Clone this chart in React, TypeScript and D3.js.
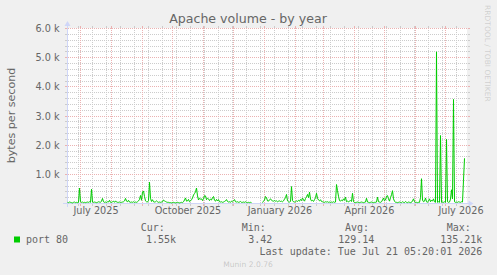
import React from "react";
import * as d3 from "d3";

// ---- data ----
const START_DATE = [2025, 5, 18]; // first plotted day (local), one value per day
const END_DATE = [2026, 6, 23];
const MINOR_GRID_FIRST = [2025, 5, 29];
const MINOR_GRID_STEP_DAYS = 14;

const yTicks = [1000, 2000, 3000, 4000, 5000, 6000];
const yTickLabels = ["1.0 k", "2.0 k", "3.0 k", "4.0 k", "5.0 k", "6.0 k"];
const yMax = 6000;

const xLabelMonths = [
  [2025, 6, 1],
  [2025, 9, 1],
  [2026, 0, 1],
  [2026, 3, 1],
  [2026, 6, 1],
];
const xLabels = ["July 2025", "October 2025", "January 2026", "April 2026", "July 2026"];

// bytes per second, daily
const port80: (number | null)[] = [
  40, 30, 50, 40, 30, 20, 40, 50, 30, 40,
  30, 40, 530, 60, 40, 50, 30, 40, 30, 40,
  50, 40, 60, 40, 490, 50, 40, 50, 40, 30,
  40, 60, 50, 40, 80, 175, 60, 40, 50, 40,
  60, 50, 110, 40, 40, 60, 80, 40, 90, 50,
  40, 40, 50, 40, 40, 50, 60, 90, 175, 80,
  60, 110, 50, 40, 50, 40, 60, 40, 50, 40,
  60, 90, 140, 275, 110, 390, 430, 240, 90, 60,
  50, 100, 730, 180, 70, 130, 60, 50, 60, 90,
  60, 40, 50, 40, 50, 60, 120, 90, 70, 50,
  40, 40, 30, 30, 20, 30, 40, 30, 20, 30,
  40, 30, 20, 30, 40, 30, 60, 120, 190, 80,
  90, 140, 60, 90, 130, 190, 290, 340, 400, 530,
  260, 120, 180, 150, 160, 100, 170, 270, 260, 130,
  180, 160, 100, 150, 120, 200, 240, 110, 80, 140,
  90, 135, 60, 50, 60, 40, 50, 70, 90, 135,
  70, 50, 60, 40, 80, 60, 90, 135, 60, 50,
  60, 40, 50, 70, 40, 40, 50, 40, 60, 40,
  30, 40, 30, 40, 30, null, null, null, null, null,
  null, null, null, null, null, 30, 80, 120, 240, 200,
  90, 80, 130, 160, 110, 90, 80, 100, 80, 90,
  60, 80, 90, 70, 80, 60, 90, 150, 200, 310,
  90, 60, 50, 70, 580, 100, 60, 50, 60, 90,
  70, 110, 80, 140, 100, 190, 120, 80, 170, 230,
  310, 200, 390, 150, 90, 110, 70, 130, 200, 350,
  180, 120, 90, 130, 70, 60, 50, 40, 60, 50,
  60, 40, 50, 40, 50, 40, 60, 40, 50, 650,
  440, 250, 100, 80, 120, 90, 160, 110, 220, 60,
  80, 50, 90, 100, 70, 350, 60, 40, 30, 40,
  50, 40, 30, 40, 50, 40, 30, 40, 50, 180,
  50, 40, 30, 40, 50, 40, 30, 40, 40, 50,
  220, 60, 50, 40, 60, 120, 190, 90, 120, 250,
  270, 160, 80, 200, 300, 440, 160, 80, 40, 40,
  30, 40, 50, 40, 30, 60, 40, 30, 70, 40,
  30, 50, 40, 30, 40, 90, 160, 60, 40, 40,
  30, 40, 40, 200, 850, 120, 60, 80, 190, 60,
  40, 90, 160, 60, 120, 80, 160, 60, 40, 5200,
  40, 60, 40, 2330, 40, 50, 40, 60, 40, 2200,
  60, 40, 50, 150, 470, 160, 3570, 60, 40, 50,
  40, 60, 50, 40, 60, 50, 800, 1550,
];

const title = "Apache volume - by year";
const yTitle = "bytes per second";
const seriesName = "port 80";
const legendHeaders = ["Cur:", "Min:", "Avg:", "Max:"];
const legendValues = ["1.55k", "3.42", "129.14", "135.21k"];
const lastUpdate = "Last update: Tue Jul 21 05:20:01 2026";
const watermark = "Munin 2.0.76";
const sideText = "RRDTOOL / TOBI OETIKER";

const mk = (a: number[]) => new Date(a[0], a[1], a[2]);

export default function App() {
  const W = 497;
  const H = 275;
  const X0 = 67;
  const X1 = 467;
  const Y0 = 203;
  const Y1 = 28;

  const start = mk(START_DATE);
  const end = mk(END_DATE);
  const x = d3.scaleTime().domain([start, end]).range([X0 + 0.5, X1 + 0.5]);
  const y = d3.scaleLinear().domain([0, yMax]).range([Y0 + 0.5, Y1 + 0.5]);
  const pix = (v: number) => Math.floor(v);

  const sans = "'DejaVu Sans', sans-serif";
  const mono = "'DejaVu Sans Mono', monospace";
  const fontCol = "#666666";
  const gridCol = "#cccccc";
  const mgridCol = "#ebb2b2";
  const axisCol = "#CFD6F8";

  const minorY = d3.range(200, yMax + 1, 200).filter((v) => v % 1000 !== 0);
  const majorX = d3.timeMonth.range(d3.timeMonth.ceil(start), end);
  const minorX = d3.timeDay.range(mk(MINOR_GRID_FIRST), end, MINOR_GRID_STEP_DAYS);

  const data = port80.map((v, i) => ({ d: d3.timeDay.offset(start, i), v }));
  const line = d3
    .line<{ d: Date; v: number | null }>()
    .defined((p) => p.v !== null)
    .x((p) => x(p.d))
    .y((p) => y(p.v as number));

  const legendHeaderX = [140.7, 241.7, 345, 446.7];
  const legendValueRight = [176, 272.3, 374.3, 482.3];

  // dotted grid line built from 1px pixel squares (row py)
  const hPath = (py: number) => {
    let d = `M${X0 - 2},${py}h2v1h-2zM${X1 + 1},${py}h2v1h-2z`;
    for (let px = X0 + 1; px < X1; px += 2) d += `M${px},${py}h1v1h-1z`;
    return d;
  };
  const vPath = (px: number) => {
    let d = `M${px},${Y0 + 1}h1v2h-1zM${px},${Y1 - 2}h1v2h-1z`;
    for (let py = Y1; py < Y0; py += 2) d += `M${px},${py}h1v1h-1z`;
    return d;
  };

  return (
    <svg
      width={W}
      height={H}
      style={{ position: "fixed", left: 0, top: 0, display: "block" }}
      xmlns="http://www.w3.org/2000/svg"
    >
      <rect x={0} y={0} width={W} height={H} fill="#F0F0F0" />
      <rect x={X0} y={Y1} width={X1 - X0} height={Y0 - Y1} fill="#FFFFFF" />

      <g shapeRendering="crispEdges">
        {minorY.map((v) => (
          <path key={"mh" + v} d={hPath(pix(y(v)))} fill={gridCol} />
        ))}
        {minorX.map((d, i) => (
          <path key={"mv" + i} d={vPath(pix(x(d)))} fill={gridCol} />
        ))}
        {yTicks.map((v) => (
          <path key={"Mh" + v} d={hPath(pix(y(v)))} fill={mgridCol} />
        ))}
        {majorX.map((d, i) => (
          <path key={"Mv" + i} d={vPath(pix(x(d)))} fill={mgridCol} />
        ))}
      </g>

      {/* axes */}
      <line x1={X0 - 4} x2={X1 + 4} y1={Y0 + 0.5} y2={Y0 + 0.5} stroke={axisCol} shapeRendering="crispEdges" />
      <line x1={X0 + 0.5} x2={X0 + 0.5} y1={Y0 + 4} y2={Y1 - 4} stroke={axisCol} shapeRendering="crispEdges" />
      <polygon
        points={`${X1 + 1.5},${Y0 + 0.5 - 3} ${X1 + 1.5},${Y0 + 0.5 + 3} ${X1 + 6.5},${Y0 + 0.5}`}
        fill={axisCol}
      />
      <polygon
        points={`${X0 + 0.5 - 3},${Y1 - 2} ${X0 + 0.5 + 3},${Y1 - 2} ${X0 + 0.5},${Y1 - 7}`}
        fill={axisCol}
      />

      {/* data */}
      <path d={line(data) || ""} fill="none" stroke="#00CC00" strokeWidth={1} />

      {/* y tick labels */}
      {yTicks.map((v, i) => (
        <text
          key={"yl" + v}
          x={59.5}
          y={pix(y(v)) + 4}
          textAnchor="end"
          fontFamily={sans}
          fontSize={9.7}
          fill={fontCol}
        >
          {yTickLabels[i]}
        </text>
      ))}
      {/* x labels */}
      {xLabelMonths.map((m, i) => {
        const d = mk(m);
        const cx = (x(d) + x(d3.timeMonth.offset(d, 1))) / 2;
        return (
          <text
            key={"xl" + i}
            x={cx}
            y={214}
            textAnchor="middle"
            fontFamily={sans}
            fontSize={9.7}
            fill={fontCol}
          >
            {xLabels[i]}
          </text>
        );
      })}

      {/* title */}
      <text x={248} y={23} textAnchor="middle" fontFamily={sans} fontSize={12.6} fill={fontCol}>
        {title}
      </text>
      {/* y title */}
      <text
        transform={`translate(14.5,${(Y0 + Y1) / 2}) rotate(-90)`}
        textAnchor="middle"
        fontFamily={sans}
        fontSize={11.1}
        fill={fontCol}
      >
        {yTitle}
      </text>
      {/* side text */}
      <text
        transform={`translate(484.5,53.4) rotate(90)`}
        textAnchor="middle"
        fontFamily={sans}
        fontSize={7.5}
        fill={fontCol}
        fillOpacity={0.25}
      >
        {sideText}
      </text>

      {/* legend */}
      <rect x={14} y={236.5} width={6} height={6} fill="#00CC00" />
      <text x={26} y={242.5} fontFamily={mono} fontSize={10} fill={fontCol}>
        {seriesName}
      </text>
      {legendHeaders.map((h, i) => (
        <text key={"lh" + i} x={legendHeaderX[i]} y={230.5} fontFamily={mono} fontSize={10} fill={fontCol}>
          {h}
        </text>
      ))}
      {legendValues.map((v, i) => (
        <text
          key={"lv" + i}
          x={legendValueRight[i]}
          y={242.5}
          textAnchor="end"
          fontFamily={mono}
          fontSize={10}
          fill={fontCol}
        >
          {v}
        </text>
      ))}
      <text x={482.3} y={254.5} textAnchor="end" fontFamily={mono} fontSize={10} fill={fontCol}>
        {lastUpdate}
      </text>
      <text
        x={248}
        y={267}
        textAnchor="middle"
        fontFamily={sans}
        fontSize={7.6}
        fill={fontCol}
        fillOpacity={0.3}
      >
        {watermark}
      </text>
    </svg>
  );
}
